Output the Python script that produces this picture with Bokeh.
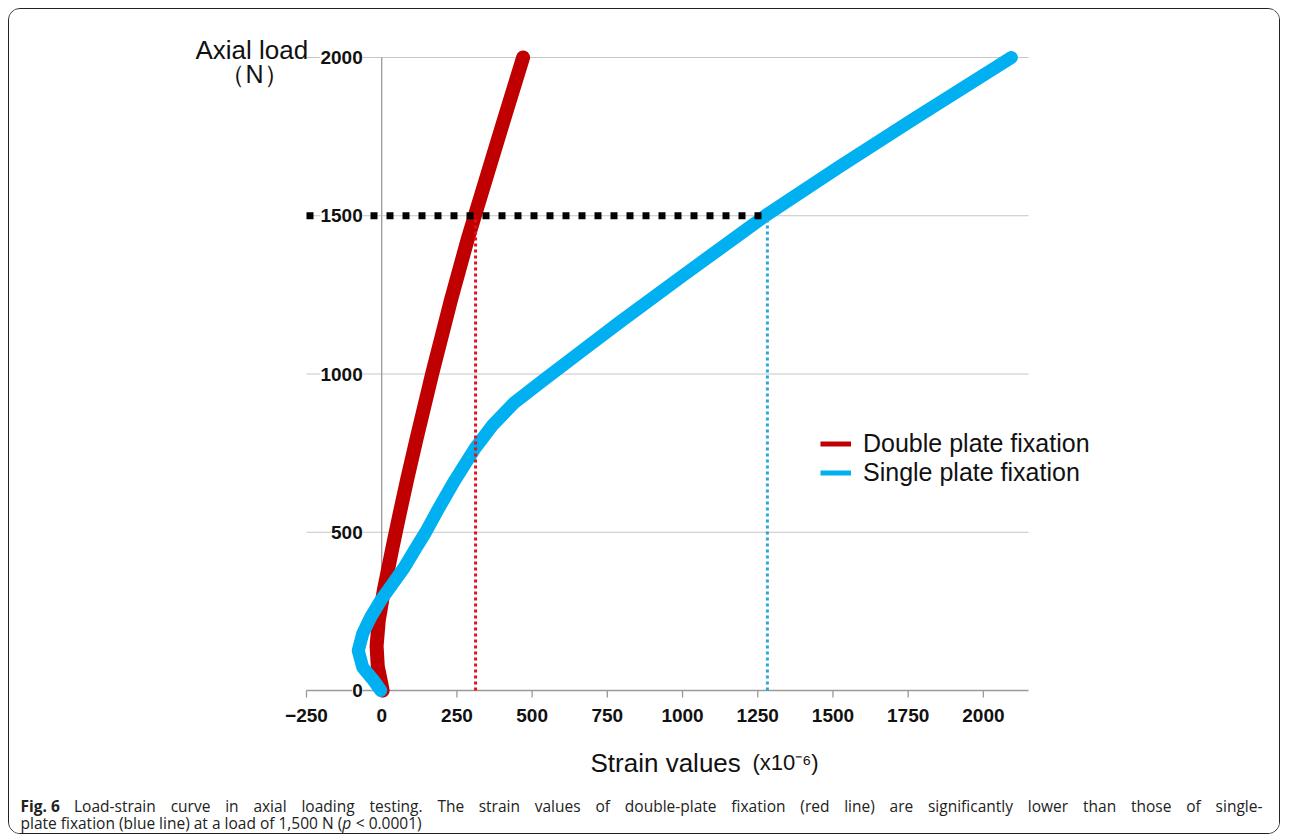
from bokeh.plotting import figure
from bokeh.models import Label, Legend, LegendItem, ColumnDataSource, Range1d
from bokeh.embed import file_html
from bokeh.resources import INLINE

# ---------------- data ----------------
red_load = [0, 30, 75, 140, 220, 316, 452, 560, 664, 800, 1002, 1233, 1423, 1508, 1793, 2000]
red_strain = [3, -3, -13, -17, -10, 7, 36, 60, 84, 117, 168, 230, 285, 312, 403, 470]

blue_load = [0, 32, 73, 126, 180, 231, 285, 338, 389, 452, 500, 580, 664, 765, 840, 907,
             975, 1070, 1165, 1310, 1500, 1654, 1802, 2000]
blue_strain = [-3, -27, -63, -78, -63, -37, -3, 37, 75, 115, 146, 192, 243, 310, 370, 438,
               530, 661, 793, 1000, 1275, 1520, 1762, 2093]

ref_load = 1500
red_strain_at_ref = 312
blue_strain_at_ref = 1282

x_ticks = [-250, 0, 250, 500, 750, 1000, 1250, 1500, 1750, 2000]
x_tick_labels = ["\u2212250", "0", "250", "500", "750", "1000", "1250", "1500", "1750", "2000"]
y_ticks = [0, 500, 1000, 1500, 2000]
y_tick_labels = ["0", "500", "1000", "1500", "2000"]

series_names = ["Double plate fixation", "Single plate fixation"]
x_title = "Strain values"
x_title_unit = "(x10\u207b\u2076)"
y_title = "Axial load"
y_title_unit = "\uff08N\uff09"
caption_bold = "Fig. 6"
caption_line1 = ("Load-strain curve in axial loading testing. The strain values of double-plate "
                 "fixation (red line) are significantly lower than those of single-")
caption_line2 = [("plate fixation (blue line) at a load of 1,500 N (", "normal"),
                 ("p", "italic"), (" < 0.0001)", "normal")]

RED = "#c00000"
BLUE = "#00b0f0"
GRID = "#c6c6c6"
AXIS = "#9a9a9a"
TXT = "#111111"
CAP_TXT = "#222222"

# ---------------- layout (page pixels) ----------------
X0, X1 = -250, 2150          # visible strain range of the chart area
Y0, Y1 = 0, 2000             # visible load range of the chart area
W, H = 1272, 826             # canvas size
CAN_L, CAN_T = 9, 9          # canvas origin on the page (margin + border)
PLOT_L, PLOT_R, PLOT_T, PLOT_B = 306, 1028, 57, 690

kx = (X1 - X0) / (PLOT_R - PLOT_L)
ky = (Y1 - Y0) / (PLOT_B - PLOT_T)
xr = Range1d(X0 - (PLOT_L - CAN_L) * kx, X1 + (CAN_L + W - PLOT_R) * kx)
yr = Range1d(Y0 - (CAN_T + H - PLOT_B) * ky, Y1 + (PLOT_T - CAN_T) * ky)

def px(xpix):
    return X0 + (xpix - PLOT_L) * kx

def py(ypix):
    return Y0 + (PLOT_B - ypix) * ky

p = figure(width=W, height=H, x_range=xr, y_range=yr,
           output_backend="svg", toolbar_location=None,
           x_axis_location=None, y_axis_location=None,
           min_border=0, min_border_left=0, min_border_right=0,
           min_border_top=0, min_border_bottom=0)
p.title.visible = False
p.styles = {"margin": "8px 0px 0px 8px", "border": "1px solid #222222",
            "border-radius": "12px", "overflow": "hidden"}
p.outline_line_color = None
p.background_fill_color = "white"
p.border_fill_color = "white"
p.xgrid.visible = False
p.ygrid.visible = False

n_y = len(y_ticks)
n_x = len(x_ticks)

# horizontal grid lines across the chart area
p.segment(x0=[X0] * (n_y - 1), x1=[X1] * (n_y - 1), y0=y_ticks[1:], y1=y_ticks[1:],
          line_color=GRID, line_width=1)
# vertical axis line at strain 0
p.segment(x0=[0], x1=[0], y0=[Y0], y1=[Y1], line_color=AXIS, line_width=1.3)
# horizontal axis line at load 0 and its tick marks
p.segment(x0=[X0], x1=[X1], y0=[Y0], y1=[Y0], line_color=AXIS, line_width=1.3)
p.segment(x0=x_ticks, x1=x_ticks, y0=[Y0] * n_x, y1=[Y0 - 7 * ky] * n_x,
          line_color=AXIS, line_width=1.3)

# curves
red_src = ColumnDataSource(dict(x=red_strain, y=red_load))
blue_src = ColumnDataSource(dict(x=blue_strain, y=blue_load))
p.line("x", "y", source=red_src, line_color=RED, line_width=14,
       line_join="round", line_cap="round")
p.line("x", "y", source=blue_src, line_color=BLUE, line_width=13,
       line_join="round", line_cap="round")

# reference dotted lines
p.line([red_strain_at_ref, red_strain_at_ref], [Y0, ref_load], line_color="#e3111b",
       line_width=3, line_dash="3 3")
p.line([blue_strain_at_ref, blue_strain_at_ref], [Y0, ref_load], line_color="#2da4dc",
       line_width=3, line_dash="3 3")
p.line([X0, blue_strain_at_ref - 15], [ref_load, ref_load], line_color="black",
       line_width=7, line_dash="7 9")

# legend (thin sample lines, renderers carry no visible data)
nan = float("nan")
r_leg1 = p.line(x=[nan, nan], y=[nan, nan], line_color=RED, line_width=5)
r_leg2 = p.line(x=[nan, nan], y=[nan, nan], line_color=BLUE, line_width=5)
legend = Legend(items=[LegendItem(label=series_names[0], renderers=[r_leg1]),
                       LegendItem(label=series_names[1], renderers=[r_leg2])],
                location=(820 - CAN_L, CAN_T + H - 487), border_line_color=None,
                background_fill_alpha=0, padding=0, margin=0, spacing=0,
                glyph_width=31, glyph_height=29, label_height=29, label_standoff=12,
                label_text_font="Liberation Sans", label_text_font_size="25px",
                label_text_color=TXT)
p.add_layout(legend)

# y tick labels (white background hides the grid line, as in the original)
for v, t in zip(y_ticks, y_tick_labels):
    p.add_layout(Label(x=-19 * kx, y=v, text=t, text_align="right",
                       text_baseline="middle", text_font="Liberation Sans",
                       text_font_style="bold", text_font_size="19px", text_color=TXT,
                       background_fill_color="white"))

# x tick labels
for v, t in zip(x_ticks, x_tick_labels):
    p.add_layout(Label(x=v, y=py(715), text=t, text_align="center",
                       text_baseline="middle", text_font="Liberation Sans",
                       text_font_style="bold", text_font_size="19px", text_color=TXT))

# axis titles
p.add_layout(Label(x=px(195), y=py(49), text=y_title, text_align="left",
                   text_baseline="alphabetic", text_font="Liberation Sans",
                   text_font_size="26px", text_color=TXT))
p.add_layout(Label(x=px(254), y=py(73), text=y_title_unit, text_align="center",
                   text_baseline="middle", text_font="Liberation Sans",
                   text_font_size="25px", text_color=TXT))
p.add_layout(Label(x=px(590), y=py(762), text=x_title, text_align="left",
                   text_baseline="alphabetic", text_font="Liberation Sans",
                   text_font_size="26px", text_color=TXT))
p.add_layout(Label(x=px(752), y=py(762), text=x_title_unit, text_align="left",
                   text_baseline="alphabetic", text_font="Liberation Sans",
                   text_font_size="22px", text_color=TXT))

# ---------------- caption (justified first line, as in the original) ----------------
CAP_FONT = "Open Sans"
CAP_SIZE = 15.5
# approximate Open Sans advance widths (units per 2048 em)
OS_REG = {" ": 532, "a": 1139, "b": 1255, "c": 975, "d": 1255, "e": 1149, "f": 694,
          "g": 1122, "h": 1257, "i": 518, "l": 518, "n": 1257, "o": 1237, "p": 1255,
          "r": 836, "s": 977, "t": 723, "u": 1257, "v": 1026, "w": 1593, "x": 1073,
          "y": 1028, "L": 1077, "T": 1096, "N": 1532, "-": 659, ".": 545, ",": 545,
          "(": 596, ")": 596, "<": 1171}
OS_BOLD = {"F": 1130, "i": 571, "g": 1128, ".": 584, " ": 532}

def text_w(s, table):
    return sum(table.get(c, 1171) for c in s) / 2048.0 * CAP_SIZE

CAP_LEFT, CAP_RIGHT = 20, 1262
LINE1_Y, LINE2_Y = 805, 822

bold_w = text_w(caption_bold, OS_BOLD)
p.add_layout(Label(x=px(CAP_LEFT), y=py(LINE1_Y), text=caption_bold, text_align="left",
                   text_baseline="middle", text_font=CAP_FONT, text_font_style="bold",
                   text_font_size=f"{CAP_SIZE}px", text_color=CAP_TXT))
words = caption_line1.split(" ")
word_w = [text_w(wd, OS_REG) for wd in words]
gap = (CAP_RIGHT - CAP_LEFT - bold_w - sum(word_w)) / len(words)
xpos = CAP_LEFT + bold_w + gap
for wd, ww in zip(words, word_w):
    p.add_layout(Label(x=px(xpos), y=py(LINE1_Y), text=wd, text_align="left",
                       text_baseline="middle", text_font=CAP_FONT,
                       text_font_size=f"{CAP_SIZE}px", text_color=CAP_TXT))
    xpos += ww + gap

xpos = CAP_LEFT
for seg, style in caption_line2:
    stripped = seg.lstrip(" ")
    xpos += text_w(seg[:len(seg) - len(stripped)], OS_REG)
    p.add_layout(Label(x=px(xpos), y=py(LINE2_Y), text=stripped, text_align="left",
                       text_baseline="middle", text_font=CAP_FONT, text_font_style=style,
                       text_font_size=f"{CAP_SIZE}px", text_color=CAP_TXT))
    xpos += text_w(stripped, OS_REG)

open("out.html", "w").write(file_html(p, INLINE))
